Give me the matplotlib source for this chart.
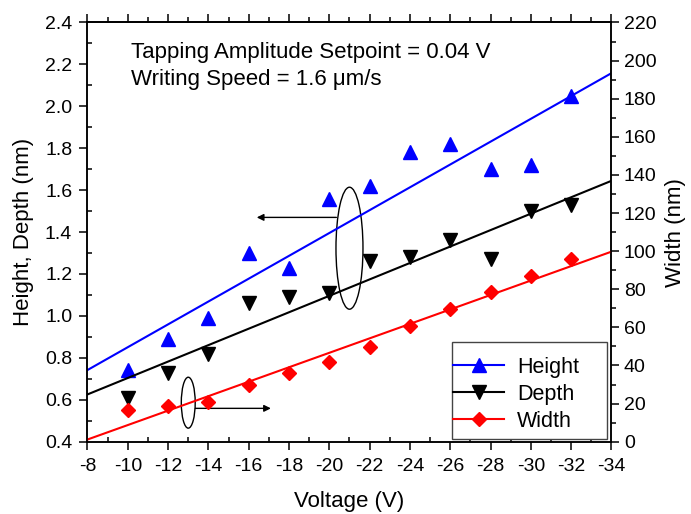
import numpy as np
import matplotlib
matplotlib.use('Agg')
import matplotlib.pyplot as plt
from matplotlib.patches import Ellipse, Rectangle
from matplotlib.lines import Line2D
from matplotlib.ticker import MultipleLocator, FormatStrFormatter

plt.rcParams['font.family'] = ['Liberation Sans', 'DejaVu Sans']
plt.rcParams['axes.unicode_minus'] = False

# data
voltage = [-10, -12, -14, -16, -18, -20, -22, -24, -26, -28, -30, -32]
height = [0.74, 0.89, 0.99, 1.30, 1.23, 1.56, 1.62, 1.78, 1.82, 1.70, 1.72, 2.05]
depth = [0.61, 0.73, 0.82, 1.06, 1.09, 1.11, 1.26, 1.28, 1.36, 1.27, 1.50, 1.53]
width = [16.6, 18.7, 21.0, 29.7, 35.9, 42.0, 49.8, 60.7, 69.5, 78.7, 86.9, 95.7]
series_names = ['Height', 'Depth', 'Width']

x_range = (-8, -34)
left_range = (0.4, 2.4)
right_range = (0, 220)

fig = plt.figure(figsize=(6.91, 5.14), dpi=100)
ax = fig.add_axes([0.1266, 0.1407, 0.7583, 0.8156])
ax2 = ax.twinx()

# linear fits over the full axis span
xfit = np.array(x_range, dtype=float)
fit_h = np.polyfit(voltage, height, 1)
fit_d = np.polyfit(voltage, depth, 1)
fit_w = np.polyfit(voltage, width, 1)

ax.plot(xfit, np.polyval(fit_h, xfit), color='blue', lw=1.5)
ax.plot(voltage, height, ls='none', marker='^', ms=9.5, color='blue')
ax.plot(xfit, np.polyval(fit_d, xfit), color='black', lw=1.5)
ax.plot(voltage, depth, ls='none', marker='v', ms=9.5, color='black')
ax2.plot(xfit, np.polyval(fit_w, xfit), color='red', lw=1.5)
ax2.plot(voltage, width, ls='none', marker='D', ms=7.5, color='red')

ax.set_xlim(*x_range)
ax.set_ylim(*left_range)
ax2.set_ylim(*right_range)

# ticks
ax.xaxis.set_major_locator(MultipleLocator(2))
ax.xaxis.set_minor_locator(MultipleLocator(1))
ax.yaxis.set_major_locator(MultipleLocator(0.2))
ax.yaxis.set_minor_locator(MultipleLocator(0.1))
ax.yaxis.set_major_formatter(FormatStrFormatter('%.1f'))
ax2.yaxis.set_major_locator(MultipleLocator(20))
ax2.yaxis.set_minor_locator(MultipleLocator(10))

ax.tick_params(which='major', direction='out', length=6, width=1.1, labelsize=14)
ax.tick_params(axis='x', which='major', pad=6)
ax.tick_params(axis='y', which='major', pad=5)
ax.tick_params(which='minor', direction='in', length=3.5, width=1.1)
ax2.tick_params(which='major', direction='out', length=6, width=1.1, labelsize=14, pad=3)
ax2.tick_params(which='minor', direction='out', length=3.5, width=1.1)

top = ax.secondary_xaxis('top')
top.xaxis.set_major_locator(MultipleLocator(2))
top.xaxis.set_minor_locator(MultipleLocator(1))
top.tick_params(which='major', direction='out', length=6, width=1.1, labeltop=False)
top.tick_params(which='minor', direction='out', length=3.5, width=1.1)

for a in (ax, ax2, top):
    for s in a.spines.values():
        s.set_linewidth(1.1)

ax.set_xlabel('Voltage (V)', fontsize=16, labelpad=11)
ax.set_ylabel('Height, Depth (nm)', fontsize=16, labelpad=8)
ax2.set_ylabel('Width (nm)', fontsize=16, labelpad=6)

# annotation text
ax.text(0.083, 0.915, 'Tapping Amplitude Setpoint = 0.04 V', transform=ax.transAxes,
        fontsize=16, va='baseline', ha='left')
ax.text(0.083, 0.851, 'Writing Speed = 1.6 \u03bcm/s', transform=ax.transAxes,
        fontsize=16, va='baseline', ha='left')

# ellipses with arrows pointing to the relevant axis
ax.add_patch(Ellipse((-21, 1.323), 1.34, 0.582, fill=False, ec='black', lw=1))
ax.annotate('', xy=(-16.4, 1.47), xytext=(-20.35, 1.47),
            arrowprops=dict(arrowstyle='-|>', color='black', lw=1, mutation_scale=10, shrinkA=0, shrinkB=0))
ax.add_patch(Ellipse((-13, 0.586), 0.69, 0.243, fill=False, ec='black', lw=1))
ax.annotate('', xy=(-17.1, 0.559), xytext=(-13.35, 0.559),
            arrowprops=dict(arrowstyle='-|>', color='black', lw=1, mutation_scale=10, shrinkA=0, shrinkB=0))

# legend
handles = [
    Line2D([], [], color='blue', lw=1.5, marker='^', ms=9.5),
    Line2D([], [], color='black', lw=1.5, marker='v', ms=9.5),
    Line2D([], [], color='red', lw=1.5, marker='D', ms=7.5),
]
ax2.add_patch(Rectangle((0.696, 0.0064), 0.295, 0.231, transform=ax2.transAxes,
                        fill=True, fc='white', ec='#444444', lw=1, zorder=5))
leg = ax2.legend(handles, series_names, loc='upper left', bbox_to_anchor=(0.698, 0.203),
                 frameon=False, fontsize=15.5, borderpad=0, borderaxespad=0,
                 handlelength=2.36, handletextpad=0.6, labelspacing=0.28)
leg.set_zorder(6)

fig.savefig('out.png', dpi=100)
